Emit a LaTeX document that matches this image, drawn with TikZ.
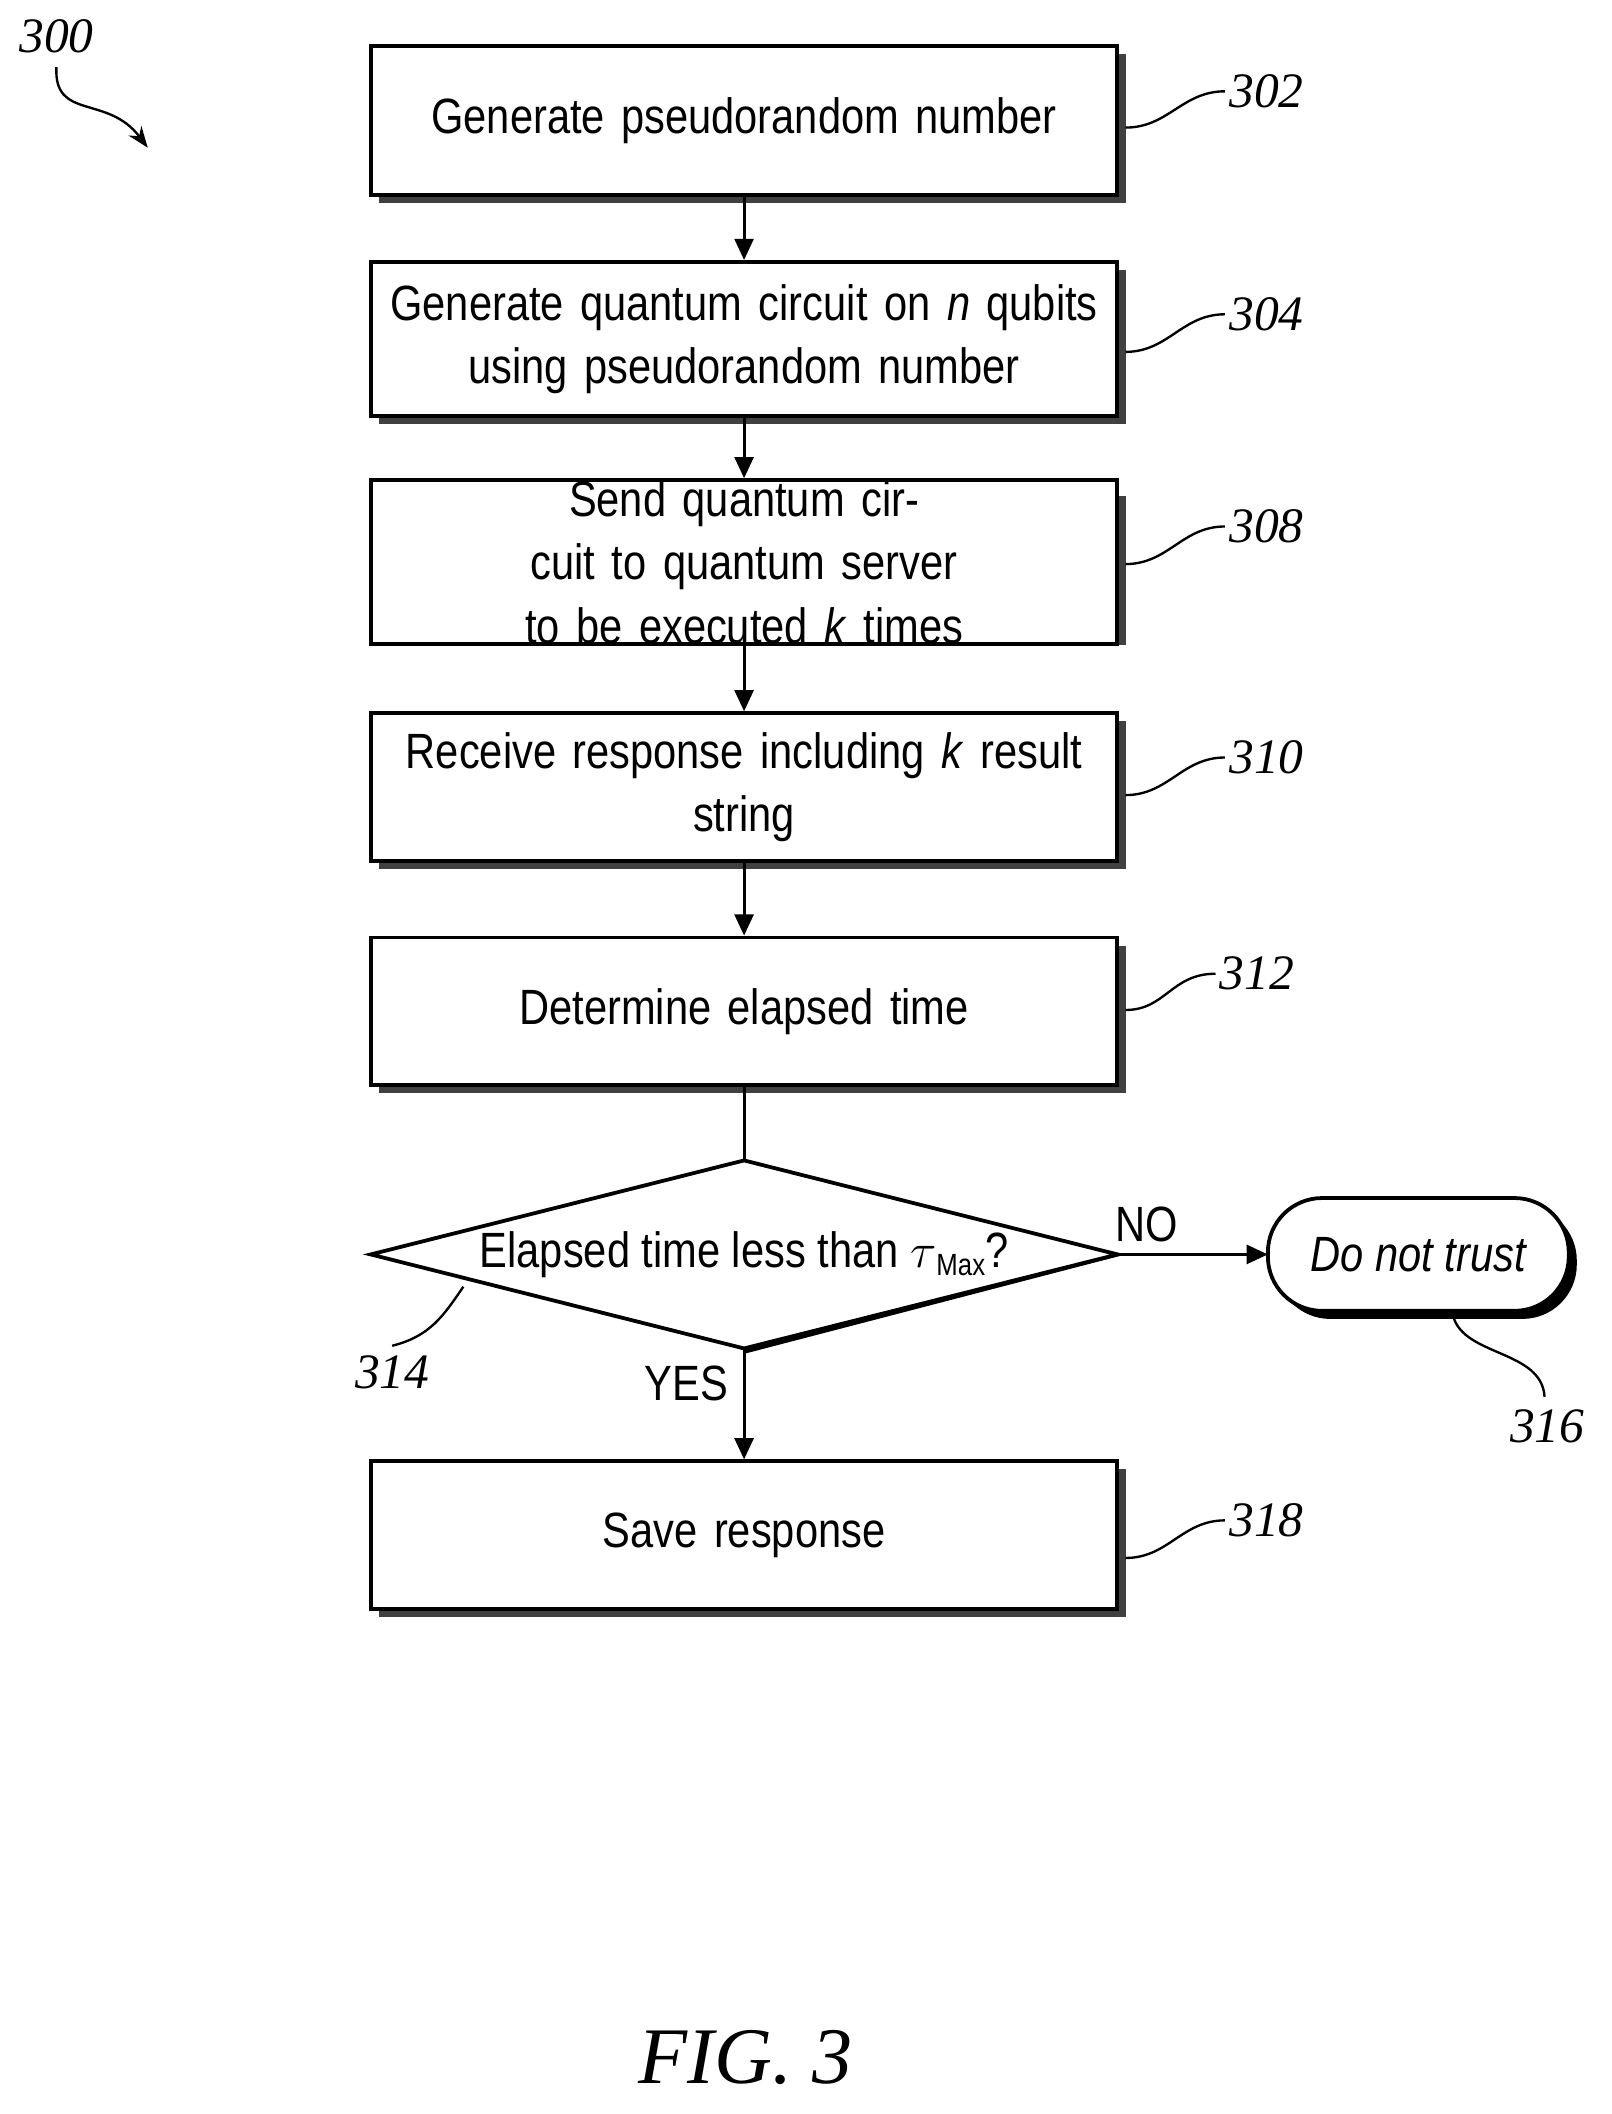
\documentclass[tikz,border=0pt]{standalone}
\usepackage{fontspec}
\setmainfont{Liberation Sans}[FakeStretch=0.84]
\newfontfamily\serifit{Liberation Serif}
\usetikzlibrary{shapes.geometric,arrows.meta}
\begin{document}
\begin{tikzpicture}[x=0.02cm,y=-0.02cm,
  box/.style={draw,line width=1.6pt,fill=white,minimum width=11.12cm,text width=10.9cm,minimum height=2.2cm,align=center,font=\fontsize{21}{27}\selectfont,inner sep=0pt},
  shadow/.style={fill=black!75},
  arr/.style={-{Triangle[length=9pt,width=8pt]},line width=1.3pt},
  ref/.style={font=\serifit\itshape\fontsize{21}{24}\selectfont},
  sq/.style={line width=1pt}]
\useasboundingbox (0,0) rectangle (1200,1574);
% shadows
\foreach \t/\b in {34/145,195/310,363/474,531/641,698/808,1088/1198}{
  \fill[shadow] (282,\t+6) rectangle (838,\b+6);}
\node[box,minimum height=2.22cm] (b302) at (554,89.5) {Generate pseudorandom number};
\node[box,minimum height=2.3cm] (b304) at (554,252.5) {Generate quantum circuit on \textit{n} qubits\\using pseudorandom number};
\node[box,minimum height=2.22cm] (b308) at (554,418.5) {Send quantum circuit to quantum server\\to be executed \textit{k} times};
\node[box,minimum height=2.2cm] (b310) at (554,586) {Receive response including \textit{k} result\\string};
\node[box,minimum height=2.2cm] (b312) at (554,753) {Determine elapsed time};
\node[box,minimum height=2.2cm] (b318) at (554,1143) {Save response};
% diamond
\fill[black] (554,870) -- (838,934) -- (554,1008) -- cycle;
\draw[line width=1.6pt,fill=white] (276,934) -- (554,864) -- (832,934) -- (554,1004) -- cycle;
\coordinate (dt) at (554,864); \coordinate (db) at (554,1004); \coordinate (dr) at (832,934);
\node[font=\fontsize{21}{27}\selectfont] (dtext) at (554,934) {Elapsed time less than $\tau$\raisebox{-0.3ex}{\fontsize{13}{14}\selectfont Max}?};
% terminal
\fill[black,rounded corners=23pt] (950,898) rectangle (1174,982);
\draw[line width=1.6pt,fill=white,rounded corners=23pt] (944,892) rectangle (1168,976);
\node[font=\itshape\fontsize{21}{27}\selectfont] (t316) at (1056,934) {Do not trust};
\coordinate (tl) at (944,934);
% arrows
\draw[arr] (b302) -- (b304);
\draw[arr] (b304) -- (b308);
\draw[arr] (b308) -- (b310);
\draw[arr] (b310) -- (b312);
\draw[line width=1.3pt] (b312.south) -- (dt);
\draw[arr] (db) -- (b318);
\draw[arr] (dr) -- (tl);
\node[font=\fontsize{21}{27}\selectfont] (no) at (854,912) {NO};
\node[font=\fontsize{21}{27}\selectfont] (yes) at (511,1030) {YES};
% refs
\foreach \n/\y/\ly in {302/95/68,304/262/234,308/420/392,310/592/564,318/1160/1132}{
  \node[ref] (r\n) at (943,\ly) {\n};
  \draw[sq] (838,\y) .. controls (870,\y) and (880,\ly) .. (912,\ly);}
\node[ref] (r312) at (936,725) {312};
\draw[sq] (838,752) .. controls (868,752) and (872,725) .. (905,725);
\node[ref] (r314) at (292,1022) {314};
\draw[sq] (292,1002) .. controls (320,995) and (330,980) .. (345,958);
\node[ref] (r316) at (1152,1062) {316};
\draw[sq] (1150,1040) .. controls (1148,1005) and (1090,1010) .. (1082,980);
\node[ref] (r300) at (42,27) {300};
\draw[sq,-{Stealth[length=9pt]}] (42,50) .. controls (40,90) and (80,70) .. (110,110);
\node[font=\serifit\itshape\fontsize{34}{38}\selectfont] (fig) at (555,1532) {FIG. 3};
\end{tikzpicture}
\end{document}
